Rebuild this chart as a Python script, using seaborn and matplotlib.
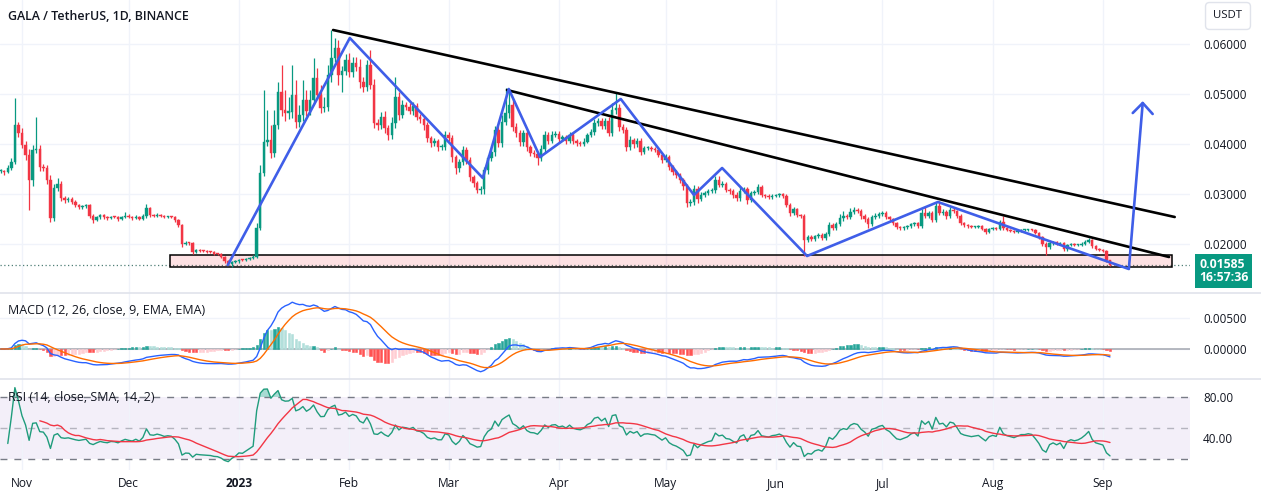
import numpy as np
import pandas as pd
import matplotlib
matplotlib.use("Agg")
import matplotlib.pyplot as plt
import matplotlib.transforms as mtransforms
from matplotlib.patches import Rectangle
import seaborn as sns

# === 1. Dados ===
start_day = "2022-10-26"
# fechamentos diários em unidades de 0.0001 USDT
close_e4 = [
    346, 345, 352, 364, 438, 422, 398, 378, 328, 388,
    390, 354, 352, 328, 252, 312, 320, 292, 288, 290,
    284, 278, 274, 276, 278, 256, 249, 254, 258, 254,
    252, 255, 254, 250, 254, 257, 254, 252, 255, 250,
    256, 272, 258, 257, 259, 257, 254, 255, 254, 248,
    238, 200, 203, 202, 185, 189, 187, 186, 185, 184,
    181, 180, 175, 166, 161, 164, 166, 169, 168, 170,
    172, 174, 232, 342, 404, 408, 382, 438, 504, 468,
    462, 465, 498, 444, 458, 488, 466, 488, 532, 498,
    472, 474, 538, 572, 592, 538, 546, 568, 544, 562,
    554, 524, 514, 558, 518, 442, 438, 454, 432, 418,
    442, 494, 458, 478, 474, 467, 476, 454, 450, 438,
    412, 402, 406, 394, 394, 418, 412, 374, 352, 364,
    388, 368, 334, 322, 308, 310, 348, 372, 384, 428,
    402, 444, 462, 478, 434, 422, 404, 422, 394, 382,
    380, 372, 390, 418, 406, 418, 420, 410, 414, 406,
    418, 406, 402, 400, 405, 418, 424, 442, 446, 436,
    446, 422, 468, 472, 434, 428, 394, 408, 400, 406,
    384, 392, 393, 390, 388, 378, 368, 374, 354, 344,
    338, 328, 316, 282, 284, 310, 290, 298, 302, 306,
    308, 328, 318, 320, 308, 306, 298, 292, 306, 310,
    288, 302, 304, 314, 298, 296, 294, 297, 298, 300,
    296, 278, 262, 270, 258, 256, 208, 214, 210, 216,
    218, 212, 220, 238, 232, 240, 252, 256, 254, 264,
    268, 266, 256, 250, 240, 254, 256, 260, 262, 254,
    250, 242, 234, 232, 234, 236, 240, 242, 236, 262,
    256, 262, 248, 276, 262, 264, 256, 268, 266, 256,
    242, 238, 236, 234, 235, 236, 230, 224, 230, 232,
    230, 244, 232, 228, 226, 224, 226, 228, 228, 229,
    228, 222, 214, 200, 194, 202, 204, 200, 202, 190,
    198, 200, 198, 199, 201, 204, 208, 196, 190, 188,
    186, 168, 158.5,
]
# pavio superior / inferior (0.0001 USDT)
wick_up_e4 = [
    4, 3, 6, 8, 54, 6, 10, 8, 12, 10,
    65, 8, 6, 6, 10, 8, 12, 6, 4, 4,
    4, 3, 3, 3, 3, 3, 3, 3, 3, 2,
    2, 2, 2, 3, 2, 8, 3, 2, 3, 2,
    3, 8, 3, 2, 4, 2, 2, 2, 2, 2,
    2, 2, 4, 2, 2, 2, 2, 2, 2, 2,
    2, 2, 2, 2, 2, 2, 2, 2, 2, 2,
    2, 4, 10, 16, 104, 60, 30, 30, 20, 54,
    40, 30, 60, 30, 20, 40, 20, 20, 40, 20,
    20, 20, 20, 56, 20, 16, 10, 12, 14, 12,
    12, 16, 10, 10, 30, 12, 8, 10, 12, 6,
    12, 40, 10, 10, 6, 8, 8, 6, 6, 6,
    6, 4, 6, 4, 6, 8, 6, 6, 4, 6,
    8, 6, 6, 4, 4, 6, 6, 6, 8, 8,
    8, 14, 50, 32, 12, 8, 6, 6, 6, 4,
    6, 4, 8, 8, 6, 8, 6, 6, 4, 4,
    6, 4, 4, 4, 6, 4, 6, 8, 6, 6,
    6, 8, 14, 30, 8, 6, 6, 8, 4, 6,
    6, 4, 4, 4, 4, 4, 4, 6, 4, 4,
    4, 4, 4, 4, 6, 8, 6, 6, 4, 4,
    4, 8, 8, 6, 4, 4, 4, 6, 8, 4,
    4, 4, 4, 6, 4, 3, 3, 3, 3, 3,
    3, 3, 4, 4, 3, 3, 4, 4, 4, 3,
    4, 4, 4, 6, 4, 4, 8, 10, 4, 8,
    6, 4, 4, 3, 4, 4, 6, 4, 4, 4,
    3, 3, 3, 3, 3, 3, 3, 3, 3, 8,
    12, 4, 4, 8, 10, 6, 4, 6, 4, 3,
    3, 3, 2, 2, 2, 2, 2, 3, 2, 2,
    2, 4, 12, 3, 2, 2, 2, 2, 2, 2,
    2, 2, 2, 2, 4, 4, 3, 2, 2, 2,
    2, 2, 2, 2, 3, 4, 4, 3, 2, 2,
    2, 2, 1,
]
wick_dn_e4 = [
    4, 6, 4, 4, 4, 8, 6, 10, 60, 12,
    6, 8, 6, 8, 8, 6, 6, 6, 6, 4,
    4, 4, 3, 3, 3, 4, 6, 3, 3, 3,
    3, 2, 2, 4, 2, 2, 2, 3, 2, 2,
    2, 3, 4, 2, 2, 3, 2, 2, 2, 3,
    4, 6, 2, 3, 4, 2, 2, 2, 2, 2,
    2, 2, 2, 3, 3, 7, 2, 3, 2, 2,
    2, 2, 2, 4, 6, 8, 10, 8, 8, 12,
    16, 12, 12, 12, 10, 12, 10, 8, 8, 8,
    10, 8, 8, 14, 8, 20, 34, 8, 10, 10,
    8, 12, 10, 8, 8, 10, 10, 8, 10, 10,
    8, 10, 10, 6, 6, 6, 8, 6, 8, 10,
    8, 8, 6, 8, 6, 6, 6, 10, 12, 8,
    6, 8, 8, 8, 6, 8, 10, 8, 6, 8,
    8, 8, 6, 10, 8, 8, 8, 8, 8, 6,
    6, 14, 6, 6, 6, 4, 4, 6, 4, 6,
    4, 6, 6, 4, 4, 4, 4, 6, 6, 6,
    6, 6, 6, 8, 8, 6, 8, 6, 8, 6,
    6, 4, 4, 4, 4, 4, 6, 4, 6, 6,
    6, 6, 8, 8, 6, 6, 8, 4, 4, 4,
    4, 6, 4, 4, 4, 6, 6, 6, 6, 4,
    8, 4, 4, 4, 4, 4, 3, 3, 3, 3,
    3, 3, 6, 4, 4, 4, 32, 4, 4, 3,
    4, 4, 4, 4, 4, 4, 4, 6, 4, 4,
    4, 4, 6, 6, 8, 4, 4, 4, 4, 4,
    4, 4, 4, 3, 3, 3, 3, 3, 3, 3,
    4, 4, 4, 4, 4, 4, 6, 4, 4, 4,
    3, 3, 3, 2, 2, 2, 2, 3, 2, 2,
    2, 2, 4, 2, 2, 2, 2, 2, 2, 2,
    2, 2, 4, 4, 16, 3, 3, 2, 2, 4,
    3, 2, 2, 2, 2, 2, 2, 3, 2, 2,
    2, 3, 2,
]

month_ticks = ["2022-11-01", "2022-12-01", "2023-01-01", "2023-02-01", "2023-03-01",
               "2023-04-01", "2023-05-01", "2023-06-01", "2023-07-01", "2023-08-01",
               "2023-09-01"]
month_labels = ["Nov", "Dec", "2023", "Feb", "Mar", "Apr", "May", "Jun", "Jul", "Aug", "Sep"]
price_ticks = [0.02, 0.03, 0.04, 0.05, 0.06]
macd_ticks = [0.0, 0.005]
rsi_ticks = [40, 80]

# desenhos do usuário: (dia desde start_day, preço)
upper_line_days = [93.5, 330.2]
upper_line_px = [0.0628, 0.0254]
lower_line_days = [142.4, 328.6]
lower_line_px = [0.0508, 0.0174]
zigzag_days = [63.9, 98.2, 135.6, 142.9, 151.7, 174.4, 195.0, 202.9, 226.8, 263.6, 317.3, 321.2]
zigzag_px = [0.0158, 0.0612, 0.0332, 0.0510, 0.0374, 0.0490, 0.0298, 0.0352, 0.0176, 0.0284, 0.0150, 0.0482]
arrow_days = [318.4, 321.2, 324.0]
arrow_px = [0.0462, 0.0482, 0.0460]
zone_days = [47.6, 329.4]
zone_px = [0.0154, 0.0178]
view_days = [-0.19, 334.5]
countdown = "16:57:36"

# === 2. OHLC e indicadores ===
dates = pd.date_range(start_day, periods=len(close_e4), freq="D")
close = np.array(close_e4, dtype=float) / 1e4
open_ = np.r_[close[0], close[:-1]]
high = np.maximum(open_, close) + np.array(wick_up_e4) / 1e4
low = np.minimum(open_, close) - np.array(wick_dn_e4) / 1e4
df = pd.DataFrame({"date": dates, "open": open_, "high": high, "low": low, "close": close})

ema12 = df.close.ewm(span=12, adjust=False).mean()
ema26 = df.close.ewm(span=26, adjust=False).mean()
df["macd"] = ema12 - ema26
df["signal"] = df.macd.ewm(span=9, adjust=False).mean()
df["hist"] = df.macd - df.signal
delta = df.close.diff()
gain = delta.clip(lower=0).ewm(alpha=1 / 14, adjust=False).mean()
loss = (-delta.clip(upper=0)).ewm(alpha=1 / 14, adjust=False).mean()
df["rsi"] = 100 - 100 / (1 + gain / loss)
df.loc[:1, "rsi"] = np.nan  # primeiros dias sem histórico suficiente
df["rsi_ma"] = df.rsi.rolling(14, min_periods=10).mean()

t0 = pd.Timestamp(start_day)
def day(d):
    return t0 + pd.to_timedelta(np.asarray(d, dtype=float), unit="D")

UP, DOWN = "#089981", "#F23645"
TXT = "#131722"
GRID = "#f0f3fa"

# === 3. Figura ===
sns.set_style("white")
plt.rcParams["font.family"] = ["Open Sans", "DejaVu Sans"]
W, H = 1261, 495
fig = plt.figure(figsize=(W / 100, H / 100), dpi=100)

def box(x0, y0, x1, y1):
    return [x0 / W, 1 - y1 / H, (x1 - x0) / W, (y1 - y0) / H]

ax_p = fig.add_axes(box(0, 0, 1190, 293))
ax_m = fig.add_axes(box(0, 293, 1190, 379), sharex=ax_p)
ax_r = fig.add_axes(box(0, 379, 1190, 470), sharex=ax_p)

# candles
cols = np.where(df.close >= df.open, UP, DOWN)
body = np.maximum((df.close - df.open).abs(), 0.00012)
ax_p.vlines(df.date, df.low, df.high, colors=cols, lw=0.9, zorder=3)
ax_p.bar(df.date, body, bottom=np.minimum(df.open, df.close), width=0.7,
         color=cols, edgecolor=cols, lw=0.3, zorder=4)

# zona e linhas desenhadas
zd = day(zone_days)
ax_p.add_patch(Rectangle((zd[0], zone_px[0]), zd[1] - zd[0], zone_px[1] - zone_px[0],
                         fc=(242 / 255, 54 / 255, 69 / 255, 0.15), ec="black", lw=1.1, zorder=2))
ax_p.plot(day(upper_line_days), upper_line_px, color="black", lw=1.9, zorder=5)
ax_p.plot(day(lower_line_days), lower_line_px, color="black", lw=1.9, zorder=5)
ax_p.plot(day(zigzag_days), zigzag_px, color="#3f5ee8", lw=1.9, zorder=6)
ax_p.plot(day(arrow_days), arrow_px, color="#3f5ee8", lw=1.9, zorder=6)

last = df.close.iloc[-1]
ax_p.axhline(last, color="#4f7f76", ls=(0, (1, 2)), lw=0.9, zorder=1)

ax_p.set_ylim(0.0102, 0.0688)
ax_p.set_yticks(price_ticks)
ax_p.set_yticklabels([f"{v:.5f}" for v in price_ticks])

blend = mtransforms.blended_transform_factory(ax_p.transAxes, ax_p.transData)
ax_p.annotate(f"{last:.5f}\n{countdown}", xy=(1.0, last), xycoords=blend,
              xytext=(9, 7), textcoords="offset pixels", ha="left", va="top",
              color="white", fontsize=8.8, fontweight="bold", linespacing=1.05,
              bbox=dict(boxstyle="square,pad=0.3", fc=UP, ec="none"),
              annotation_clip=False, zorder=10)

# MACD
hist = df["hist"].values
dh = np.r_[0, np.diff(hist)]
hcol = np.where(hist >= 0, np.where(dh >= 0, "#26A69A", "#B2DFDB"),
                np.where(dh < 0, "#FF5252", "#FFCDD2"))
ax_m.bar(df.date, hist, width=0.62, color=hcol, edgecolor=hcol, lw=0.4, zorder=2)
ax_m.axhline(0, color="#a3a6af", lw=1.1, zorder=1)
sns.lineplot(x=df.date, y=df.macd, ax=ax_m, color="#2962FF", lw=1.0, zorder=3)
sns.lineplot(x=df.date, y=df.signal, ax=ax_m, color="#FF6D00", lw=1.0, zorder=3)
ax_m.set_ylim(-0.00476, 0.00889)
ax_m.set_yticks(macd_ticks)
ax_m.set_yticklabels([f"{v:.5f}" for v in macd_ticks])
ax_m.text(8 / 1190, 0.80, "MACD (12, 26, close, 9, EMA, EMA)", transform=ax_m.transAxes,
          fontsize=9.0, color=TXT, va="center", ha="left")

# RSI
ax_r.axhspan(20, 80, color="#7E57C2", alpha=0.09, lw=0, zorder=0)
for lvl, a in [(80, 1.0), (50, 0.5), (20, 1.0)]:
    ax_r.axhline(lvl, color="#787B86", lw=1, ls=(0, (5, 5)), alpha=a, zorder=1)
ax_r.fill_between(df.date, 80, df.rsi, where=df.rsi > 80, interpolate=True,
                  color=UP, alpha=0.35, lw=0, zorder=2)
sns.lineplot(x=df.date, y=df.rsi, ax=ax_r, color="#1f9c7c", lw=1.0, zorder=3)
sns.lineplot(x=df.date, y=df.rsi_ma, ax=ax_r, color="#F23645", lw=1.0, zorder=3)
ax_r.set_ylim(9.35, 97.4)
ax_r.set_yticks(rsi_ticks)
ax_r.set_yticklabels([f"{v:.2f}" for v in rsi_ticks])
ax_r.text(8 / 1190, 0.80, "RSI (14, close, SMA, 14, 2)", transform=ax_r.transAxes,
          fontsize=9.0, color=TXT, va="center", ha="left", zorder=5)

# eixos
ticks_dt = pd.to_datetime(month_ticks)
for ax in (ax_p, ax_m, ax_r):
    ax.set_xlim(day(view_days[0]), day(view_days[1]))
    ax.set_xticks(ticks_dt)
    ax.yaxis.tick_right()
    ax.tick_params(axis="y", length=0, pad=9.5, labelsize=8.4, labelcolor=TXT)
    ax.tick_params(axis="x", length=0, pad=5, labelsize=8.6, labelcolor=TXT)
    ax.grid(True, axis="x", color=GRID, lw=1)
    for s in ax.spines.values():
        s.set_visible(False)
    ax.set_xlabel("")
    ax.set_ylabel("")
ax_p.grid(True, axis="y", color=GRID, lw=1)
ax_m.grid(True, axis="y", color=GRID, lw=1)
ax_p.tick_params(axis="x", labelbottom=False)
ax_m.tick_params(axis="x", labelbottom=False)
ax_r.set_xticklabels(month_labels)
for lab in ax_r.get_xticklabels():
    if lab.get_text() == "2023":
        lab.set_fontweight("bold")

for yy in (293, 379):
    fig.add_artist(plt.Line2D([0, 1], [1 - yy / H] * 2, transform=fig.transFigure,
                              color="#e0e3eb", lw=1.2))

fig.text(8 / W, 1 - 16 / H, "GALA / TetherUS, 1D, BINANCE", fontsize=8.9,
         fontweight="semibold", color=TXT, va="center", ha="left")
fig.text(1228 / W, 1 - 16 / H, "USDT", fontsize=8.2, color=TXT, va="center", ha="center",
         bbox=dict(boxstyle="round,pad=0.7,rounding_size=0.35", fc="white", ec="#e0e3eb", lw=1))

fig.savefig("out.png", dpi=100)
